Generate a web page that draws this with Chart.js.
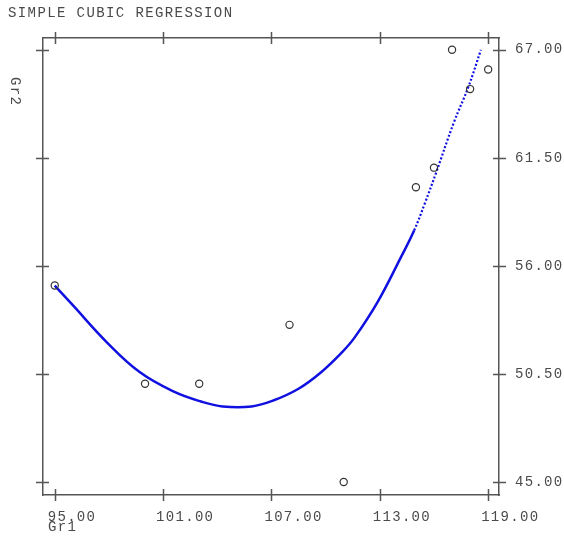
<!DOCTYPE html>
<html>
<head>
<meta charset="utf-8">
<script src="https://cdn.jsdelivr.net/npm/chart.js@4/dist/chart.umd.min.js"></script>
<style>
html,body{margin:0;padding:0;background:#fff;}
#c{display:block;}
</style>
</head>
<body>
<canvas id="c" width="564" height="539"></canvas>
<script>
const chartTitle = "SIMPLE CUBIC REGRESSION";
const xAxisName = "Gr1";
const yAxisName = "Gr2";
const xTicks = [95, 101, 107, 113, 119];
const yTicks = [45, 50.5, 56, 61.5, 67];
const obsX = [95, 100, 103, 108, 111, 115, 116, 117, 118, 119];
const obsY = [55, 50, 50, 53, 45, 60, 61, 67, 65, 66];
const fitX = [95.0, 96.0, 97.9, 99.7, 101.6, 103.1, 104.3, 105.9, 107.1, 108.5, 109.7, 110.9, 111.6, 112.9, 114.2, 114.9, 115.5, 116.1, 117.1, 117.9, 118.6];
const fitY = [55.0, 54.0, 52.1, 50.6, 49.6, 49.1, 48.85, 48.85, 49.15, 49.75, 50.55, 51.6, 52.35, 54.2, 56.5, 57.8, 59.2, 60.7, 63.3, 65.1, 67.0];

const FONT = "'Liberation Mono', 'Courier New', monospace";
const TXT = '#4a4a4a';
const FRAME = '#555555';

const deco = {
  id: 'deco',
  beforeDraw(chart) {
    chart.ctx.letterSpacing = '1.3px';
  },
  afterDraw(chart) {
    const ctx = chart.ctx;
    const a = chart.chartArea;
    const sx = chart.scales.x, sy = chart.scales.y;
    ctx.save();
    ctx.strokeStyle = FRAME;
    ctx.lineWidth = 1.5;
    ctx.beginPath();
    xTicks.forEach(v => {
      const p = Math.round(sx.getPixelForValue(v)) + 0.5;
      ctx.moveTo(p, a.top - 6); ctx.lineTo(p, a.top + 6);
      ctx.moveTo(p, a.bottom - 6); ctx.lineTo(p, a.bottom + 6);
    });
    yTicks.forEach(v => {
      const p = Math.round(sy.getPixelForValue(v)) + 0.5;
      ctx.moveTo(a.left - 7, p); ctx.lineTo(a.left + 6, p);
      ctx.moveTo(a.right - 6, p); ctx.lineTo(a.right + 7, p);
    });
    ctx.stroke();
    ctx.fillStyle = TXT;
    ctx.font = '14px ' + FONT;
    ctx.letterSpacing = '1.4px';
    ctx.textBaseline = 'alphabetic';
    ctx.textAlign = 'left';
    ctx.fillText(chartTitle, 8, 17);
    ctx.fillText(xAxisName, 48, 531);
    ctx.translate(15, 77);
    ctx.rotate(Math.PI / 2);
    ctx.textBaseline = 'middle';
    ctx.fillText(yAxisName, 0, 0);
    ctx.restore();
  }
};

const pts = obsX.map((x, i) => ({x, y: obsY[i]}));
const fit = fitX.map((x, i) => ({x, y: fitY[i]}));

new Chart(document.getElementById('c'), {
  type: 'scatter',
  data: {
    datasets: [
      {
        data: pts,
        showLine: false,
        pointStyle: 'circle',
        pointRadius: 3.6,
        pointBackgroundColor: 'rgba(255,255,255,0)',
        pointBorderColor: '#333',
        pointBorderWidth: 1.2
      },
      {
        type: 'line',
        data: fit,
        showLine: true,
        fill: false,
        borderColor: '#1010e0',
        borderWidth: 2.5,
        pointRadius: 0,
        tension: 0.4,
        segment: {
          borderDash: c => (c.p0.parsed.x >= 114.8 ? [2, 2] : undefined),
          borderWidth: c => (c.p0.parsed.x >= 114.8 ? 2.2 : undefined)
        }
      }
    ]
  },
  options: {
    responsive: false,
    animation: false,
    layout: {padding: 0},
    plugins: {legend: {display: false}, tooltip: {enabled: false}, title: {display: false}},
    scales: {
      x: {
        type: 'linear', position: 'bottom', min: 94.35, max: 119.6,
        afterBuildTicks: s => { s.ticks = xTicks.map(v => ({value: v})); },
        afterFit: s => { s.height = 44; },
        grid: {display: false},
        border: {display: true, color: FRAME, width: 1.5},
        ticks: {
          autoSkip: false, maxRotation: 0, align: 'start', labelOffset: -7, padding: 6,
          color: TXT, font: {family: FONT, size: 14},
          callback: v => Number(v).toFixed(2)
        }
      },
      x2: {
        type: 'linear', position: 'top', min: 94.35, max: 119.6,
        afterBuildTicks: s => { s.ticks = xTicks.map(v => ({value: v})); },
        afterFit: s => { s.height = 38; },
        grid: {display: false},
        border: {display: true, color: FRAME, width: 1.5},
        ticks: {display: false}
      },
      y: {
        type: 'linear', position: 'right', min: 44.34, max: 67.6,
        afterBuildTicks: s => { s.ticks = yTicks.map(v => ({value: v})); },
        afterFit: s => { s.width = 65; },
        grid: {display: false},
        border: {display: true, color: FRAME, width: 1.5},
        ticks: {
          autoSkip: false, padding: 8, color: TXT, font: {family: FONT, size: 14},
          callback: v => Number(v).toFixed(2)
        }
      },
      y2: {
        type: 'linear', position: 'left', min: 44.34, max: 67.6,
        afterBuildTicks: s => { s.ticks = yTicks.map(v => ({value: v})); },
        afterFit: s => { s.width = 43; },
        grid: {display: false},
        border: {display: true, color: FRAME, width: 1.5},
        ticks: {display: false}
      }
    }
  },
  plugins: [deco]
});
</script>
</body>
</html>
